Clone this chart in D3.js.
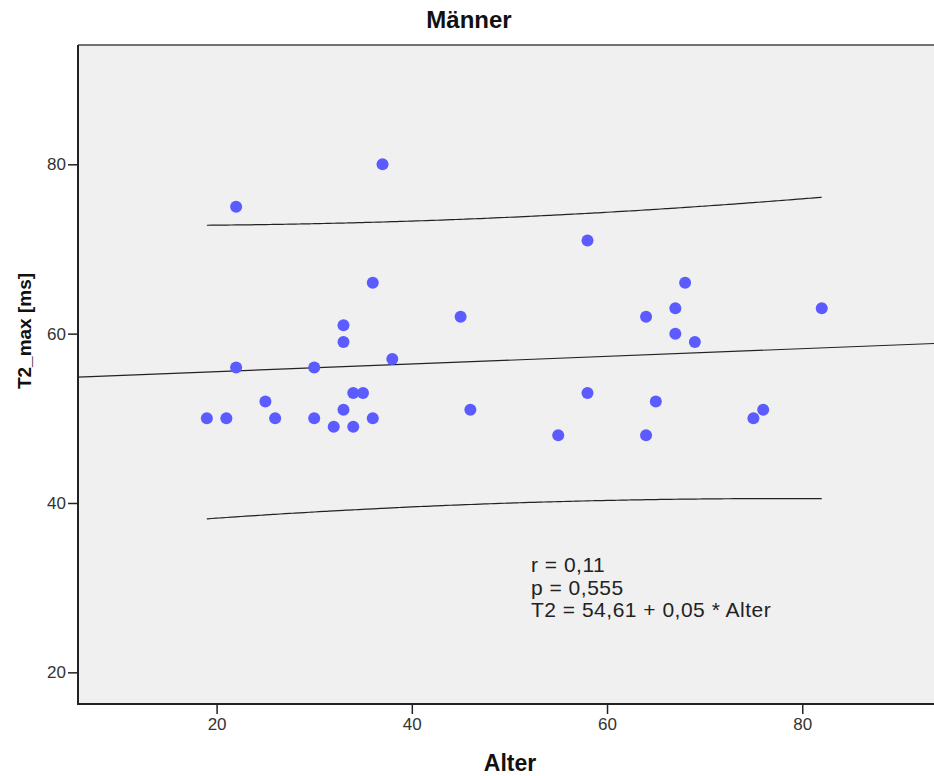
<!DOCTYPE html>
<html>
<head>
<meta charset="utf-8">
<script src="https://cdn.jsdelivr.net/npm/d3@7"></script>
<style>
  body { margin: 0; background: #fff; }
  svg text { font-family: "Liberation Sans", Arial, sans-serif; }
</style>
</head>
<body>
<div id="chart"></div>
<script>
// scatter Männer: T2_max against Alter, with fit line and 95% prediction band

var alter = [19, 21, 22, 22, 25, 26, 30, 30, 32, 33, 33, 33, 34, 34, 35, 36, 36, 37, 38,
  45, 46, 55, 58, 58, 64, 64, 65, 67, 67, 68, 69, 75, 76, 82];
var t2max = [50, 50, 75, 56, 52, 50, 56, 50, 49, 61, 59, 51, 53, 49, 53, 66, 50, 80, 57,
  62, 51, 48, 71, 53, 62, 48, 52, 63, 60, 66, 59, 50, 51, 63];
var xTicks = [20, 40, 60, 80];
var yTicks = [20, 40, 60, 80];
var statLines = ["r = 0,11", "p = 0,555", "T2 = 54,61 + 0,05 * Alter"];
var tCrit = 2.037; // t(0.975, df=32)

var width = 934, height = 776;
var pLeft = 78, pRight = 934, pTop = 45, pBottom = 704;

var svg = d3.select("#chart").append("svg")
  .attr("width", width).attr("height", height);

var x = d3.scaleLinear().domain([5.8, 93.5]).range([pLeft, pRight]);
var y = d3.scaleLinear().domain([16.26, 94.09]).range([pBottom, pTop]);

// regression
var n = alter.length;
var mx = d3.mean(alter), my = d3.mean(t2max);
var sxx = d3.sum(alter, function(a) { return (a - mx) * (a - mx); });
var sxy = d3.sum(alter, function(a, i) { return (a - mx) * (t2max[i] - my); });
var b1 = sxy / sxx, b0 = my - b1 * mx;
var sse = d3.sum(alter, function(a, i) { var e = t2max[i] - (b0 + b1 * a); return e * e; });
var s = Math.sqrt(sse / (n - 2));

function halfWidth(a) {
  return tCrit * s * Math.sqrt(1 + 1 / n + (a - mx) * (a - mx) / sxx);
}

// plot background
svg.append("rect")
  .attr("x", pLeft).attr("y", pTop)
  .attr("width", pRight - pLeft).attr("height", pBottom - pTop)
  .attr("fill", "#f0f0f0");
svg.append("line")
  .attr("x1", pLeft).attr("x2", pRight).attr("y1", pTop).attr("y2", pTop)
  .attr("stroke", "#444").attr("stroke-width", 1.5);

var plot = svg.append("g");

// prediction band
var grid = d3.range(d3.min(alter), d3.max(alter) + 0.01, 0.5);
var line = d3.line()
  .x(function(d) { return x(d[0]); })
  .y(function(d) { return y(d[1]); })
  .curve(d3.curveBasis);

plot.append("path")
  .datum(grid.map(function(a) { return [a, b0 + b1 * a + halfWidth(a)]; }))
  .attr("d", line).attr("fill", "none").attr("stroke", "#222").attr("stroke-width", 1.2);
plot.append("path")
  .datum(grid.map(function(a) { return [a, b0 + b1 * a - halfWidth(a)]; }))
  .attr("d", line).attr("fill", "none").attr("stroke", "#222").attr("stroke-width", 1.2);

// fit line over the full x range
plot.append("line")
  .attr("x1", x(x.domain()[0])).attr("y1", y(b0 + b1 * x.domain()[0]))
  .attr("x2", x(x.domain()[1])).attr("y2", y(b0 + b1 * x.domain()[1]))
  .attr("stroke", "#222").attr("stroke-width", 1.2);

// points
plot.selectAll("circle").data(alter).enter().append("circle")
  .attr("cx", function(d) { return x(d); })
  .attr("cy", function(d, i) { return y(t2max[i]); })
  .attr("r", 6)
  .attr("fill", "#5b5bff");

// stats text
svg.append("text")
  .attr("x", 531).attr("y", 572)
  .attr("font-size", 21).attr("letter-spacing", 0.5).attr("fill", "#222")
  .selectAll("tspan").data(statLines).enter().append("tspan")
  .attr("x", 531)
  .attr("dy", function(d, i) { return i ? 22.5 : 0; })
  .text(function(d) { return d; });

// axes
var xAxis = svg.append("g")
  .attr("transform", "translate(0," + pBottom + ")")
  .call(d3.axisBottom(x).tickValues(xTicks).tickSize(10).tickPadding(4));
var yAxis = svg.append("g")
  .attr("transform", "translate(" + pLeft + ",0)")
  .call(d3.axisLeft(y).tickValues(yTicks).tickSize(10).tickPadding(2));

[xAxis, yAxis].forEach(function(g) {
  g.attr("font-size", 17).attr("font-family", "Liberation Sans, Arial, sans-serif");
  g.select(".domain").remove();
  g.selectAll(".tick line").attr("stroke", "#222").attr("stroke-width", 1.5);
  g.selectAll(".tick text").attr("fill", "#333");
});

svg.append("line")
  .attr("x1", pLeft).attr("x2", pLeft).attr("y1", pTop).attr("y2", pBottom + 1)
  .attr("stroke", "#222").attr("stroke-width", 2);
svg.append("line")
  .attr("x1", pLeft).attr("x2", pRight).attr("y1", pBottom).attr("y2", pBottom)
  .attr("stroke", "#222").attr("stroke-width", 2);

// titles
svg.append("text")
  .attr("x", 469).attr("y", 28)
  .attr("text-anchor", "middle")
  .attr("font-size", 24).attr("font-weight", "bold").attr("fill", "#111")
  .text("Männer");

svg.append("text")
  .attr("x", 510).attr("y", 771)
  .attr("text-anchor", "middle")
  .attr("font-size", 23).attr("font-weight", "bold").attr("fill", "#111")
  .text("Alter");

svg.append("text")
  .attr("transform", "translate(31,331) rotate(-90)")
  .attr("text-anchor", "middle")
  .attr("font-size", 19).attr("font-weight", "bold").attr("fill", "#111")
  .text("T2_max  [ms]");
</script>
</body>
</html>
